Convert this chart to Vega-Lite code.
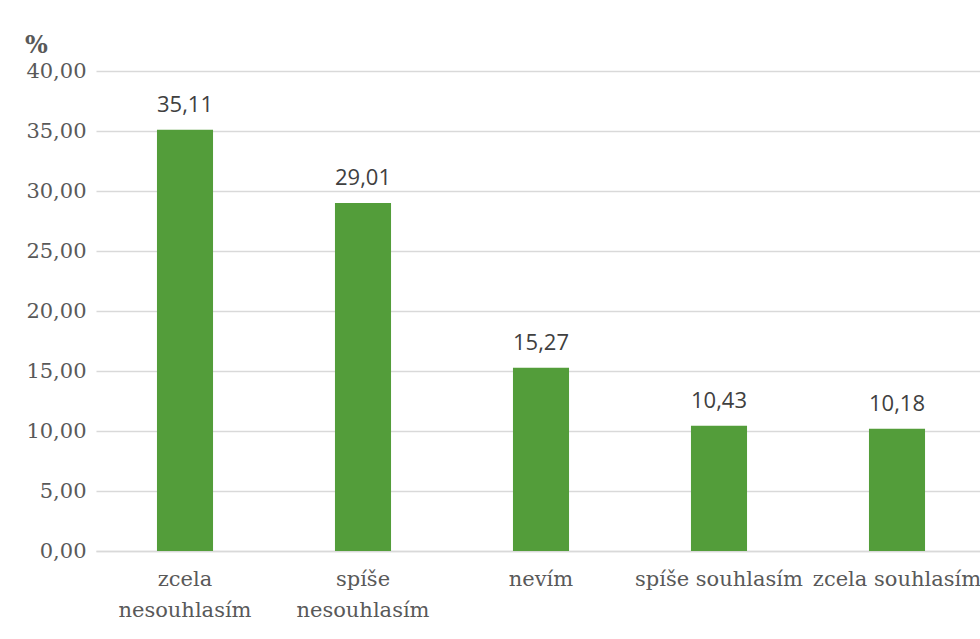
{
  "$schema": "https://vega.github.io/schema/vega-lite/v6.json",
  "autosize": "none",
  "width": 890,
  "height": 480,
  "padding": {"left": 96, "top": 71, "right": 0, "bottom": 88},
  "background": "white",
  "config": {
    "locale": {
      "number": {"decimal": ",", "thousands": " ", "grouping": [3], "currency": ["", " Kč"]}
    },
    "view": {"stroke": null},
    "style": {
      "guide-label": {"font": "DejaVu Serif"},
      "guide-title": {"font": "DejaVu Serif"}
    },
    "axis": {
      "labelFont": "DejaVu Serif",
      "titleFont": "DejaVu Serif",
      "labelColor": "#595959",
      "labelFontSize": 21,
      "ticks": false,
      "gridColor": "#d9d9d9",
      "gridWidth": 1.3,
      "domainColor": "#d9d9d9",
      "domainWidth": 1.3
    }
  },
  "data": {
    "values": [
      {"odpoved": "zcela nesouhlasím", "podil": 35.11},
      {"odpoved": "spíše nesouhlasím", "podil": 29.01},
      {"odpoved": "nevím", "podil": 15.27},
      {"odpoved": "spíše souhlasím", "podil": 10.43},
      {"odpoved": "zcela souhlasím", "podil": 10.18}
    ]
  },
  "encoding": {
    "x": {
      "field": "odpoved",
      "type": "nominal",
      "sort": null,
      "scale": {"paddingInner": 0.685, "paddingOuter": 0.3425},
      "axis": {
        "title": null,
        "labelAngle": 0,
        "labelPadding": 17,
        "labelLineHeight": 31,
        "labelBaseline": "top",
        "labelLimit": 300,
        "domain": true,
        "labelExpr": "indexof(datum.label, 'nesouhlas') >= 0 ? split(datum.label, ' ') : datum.label"
      }
    },
    "y": {
      "field": "podil",
      "type": "quantitative",
      "scale": {"domain": [0, 40], "nice": false},
      "axis": {
        "values": [0, 5, 10, 15, 20, 25, 30, 35, 40],
        "format": ".2f",
        "labelPadding": 10,
        "domain": false,
        "title": "%",
        "titleAngle": 0,
        "titleFontSize": 24,
        "titleFontWeight": "bold",
        "titleColor": "#595959",
        "titleAlign": "center",
        "titleBaseline": "alphabetic",
        "titleX": -60,
        "titleY": -19
      }
    }
  },
  "layer": [
    {"mark": {"type": "bar", "color": "#539d3a"}},
    {
      "mark": {
        "type": "text",
        "font": "Open Sans",
        "fontSize": 22,
        "color": "#404040",
        "baseline": "alphabetic",
        "dy": -18
      },
      "encoding": {
        "text": {"field": "podil", "type": "quantitative", "format": ".2f"}
      }
    }
  ]
}
